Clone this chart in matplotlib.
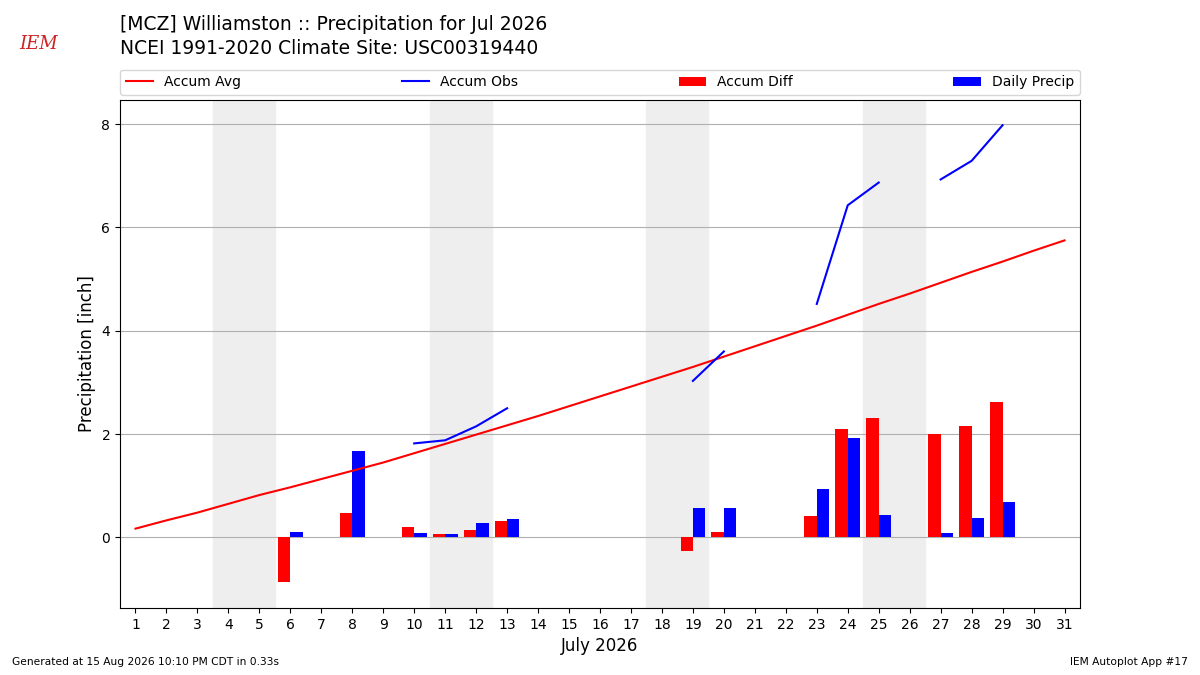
import matplotlib
matplotlib.use("Agg")
import matplotlib.pyplot as plt
import numpy as np

days = list(range(1, 32))
accum_avg = [0.17,0.33,0.48,0.64,0.80,0.96,1.12,1.28,1.44,1.62,1.80,1.98,2.16,2.34,2.52,2.70,2.88,3.07,3.26,3.45,3.64,3.84,4.04,4.24,4.44,4.64,4.84,5.04,5.24,5.45,5.75]
accum_avg = [0.17,0.33,0.48,0.65,0.82,0.97,1.13,1.29,1.45,1.63,1.81,1.99,2.17,2.35,2.54,2.73,2.92,3.11,3.30,3.50,3.70,3.90,4.10,4.31,4.52,4.72,4.93,5.14,5.34,5.55,5.75]
nan = np.nan
accum_obs = [nan]*9 + [1.82,1.88,2.15,2.50] + [nan]*5 + [3.03,3.60] + [nan]*2 + [4.52,6.43,6.87,nan,6.93,7.29,7.98,nan,nan]
bar_days = [6,8,10,11,12,13,19,20,23,24,25,27,28,29]
accum_diff = [-0.87,0.48,0.21,0.07,0.15,0.32,-0.27,0.10,0.41,2.10,2.32,2.00,2.15,2.63]
daily_precip = [0.10,1.67,0.08,0.06,0.27,0.35,0.57,0.57,0.93,1.92,0.43,0.08,0.37,0.68]
weekends = [4,11,18,25]

fig = plt.figure(figsize=(12,6.75), dpi=100)
ax = fig.add_axes([0.1,0.099,0.8,0.753])
for w in weekends:
    ax.axvspan(w-0.5, w+1.5, color="#eeeeee", zorder=0)
ax.grid(axis="y", color="#b0b0b0", zorder=1)
ax.plot(days, accum_avg, color="red", label="Accum Avg", zorder=3)
ax.plot(days, accum_obs, color="blue", label="Accum Obs", zorder=3)
bd = np.array(bar_days)
ax.bar(bd-0.2, accum_diff, width=0.4, color="red", label="Accum Diff", zorder=2)
ax.bar(bd+0.2, daily_precip, width=0.4, color="blue", label="Daily Precip", zorder=2)
ax.set_xlim(0.5,31.5)
ax.set_ylim(-1.37,8.47)
ax.set_xticks(days)
ax.set_yticks([0,2,4,6,8])
ax.set_xlabel("July 2026", fontsize=12)
ax.set_ylabel("Precipitation [inch]", fontsize=12)
ax.legend(loc="lower left", bbox_to_anchor=(0,1.01,1,0.05), mode="expand", ncol=4, fontsize=10, borderaxespad=0)
fig.text(0.1,0.963,"[MCZ] Williamston :: Precipitation for Jul 2026", fontsize=13.5, va="center")
fig.text(0.1,0.928,"NCEI 1991-2020 Climate Site: USC00319440", fontsize=13.5, va="center")
fig.text(0.032,0.935,"IEM", color="#cc2222", fontsize=13, style="italic", family="DejaVu Serif", va="center", ha="center")
fig.text(0.01,0.015,"Generated at 15 Aug 2026 10:10 PM CDT in 0.33s", fontsize=7.7)
fig.text(0.99,0.015,"IEM Autoplot App #17", fontsize=7.7, ha="right")
fig.savefig("out.png")
